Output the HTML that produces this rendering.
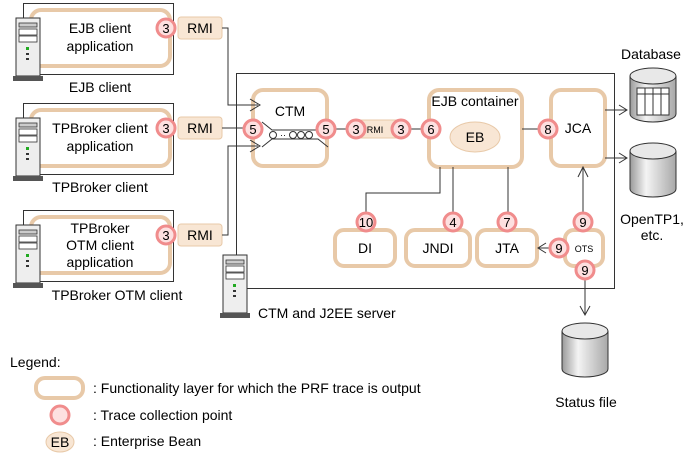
<!DOCTYPE html>
<html><head><meta charset="utf-8"><style>
html,body{margin:0;padding:0;background:#fff;}
svg{display:block;font-family:"Liberation Sans",Arial,sans-serif;}
</style></head><body>
<svg width="696" height="460" viewBox="0 0 696 460" xmlns="http://www.w3.org/2000/svg">
<defs>
<linearGradient id="cyl" x1="0" x2="1" y1="0" y2="0">
<stop offset="0" stop-color="#9a9a9a"/><stop offset="0.35" stop-color="#f4f4f4"/><stop offset="1" stop-color="#a8a8a8"/>
</linearGradient>
<g id="srv">
<rect x="3" y="0" width="24" height="58" fill="#eee" stroke="#333" stroke-width="1"/>
<rect x="6" y="5" width="18" height="4" fill="#ccc" stroke="#333" stroke-width="0.8"/>
<rect x="6" y="11" width="18" height="6" fill="#fff" stroke="#333" stroke-width="0.8"/>
<rect x="6" y="18" width="18" height="6" fill="#fff" stroke="#333" stroke-width="0.8"/>
<rect x="13" y="29" width="3" height="3" fill="#2a2"/>
<rect x="13" y="35" width="3" height="2" fill="#333"/>
<rect x="13" y="40" width="3" height="2" fill="#333"/>
<rect x="0" y="58" width="30" height="5" fill="#555"/>
</g>
<g id="cy">
<path d="M0 8 V46 A23 8 0 0 0 46 46 V8" fill="url(#cyl)" stroke="#333" stroke-width="1"/>
<ellipse cx="23" cy="8" rx="23" ry="8" fill="#e8e8e8" stroke="#333" stroke-width="1"/>
</g>
</defs>
<g font-size="14" fill="#000" stroke="none"></g>

<!-- client boxes -->
<g fill="none" stroke="#333" stroke-width="1">
<rect x="23.5" y="3.5" width="150" height="71"/>
<rect x="23.5" y="103.5" width="150" height="71"/>
<rect x="23.5" y="210.5" width="150" height="71"/>
<rect x="236.5" y="73.5" width="378" height="215"/>
</g>
<g fill="none" stroke="#e8c9a8" stroke-width="4">
<rect x="31" y="10" width="139" height="56" rx="10"/>
<rect x="31" y="110" width="139" height="56" rx="10"/>
<rect x="31" y="217" width="139" height="56" rx="10"/>
<rect x="253" y="90" width="74" height="76" rx="10"/>
<rect x="429" y="90" width="93" height="77" rx="10"/>
<rect x="551" y="90" width="54" height="76" rx="10"/>
<rect x="335" y="230" width="60" height="36" rx="9"/>
<rect x="406" y="230" width="64" height="36" rx="9"/>
<rect x="477" y="230" width="60" height="36" rx="9"/>
<rect x="565" y="230" width="38" height="36" rx="9"/>
<rect x="36" y="378" width="47" height="20" rx="9"/>
</g>
<use href="#srv" x="13" y="18"/>
<use href="#srv" x="13" y="118"/>
<use href="#srv" x="13" y="225"/>
<use href="#srv" x="220" y="255"/>

<!-- RMI boxes -->
<g fill="#f8e6d4" stroke="#e8c9a8" stroke-width="1">
<rect x="178" y="17" width="44" height="22" rx="3"/>
<rect x="178" y="117" width="44" height="22" rx="3"/>
<rect x="178" y="224" width="44" height="22" rx="3"/>
<rect x="350" y="120" width="50" height="18" rx="3"/>
<ellipse cx="475" cy="137" rx="25" ry="15"/>
<ellipse cx="60" cy="442" rx="14" ry="10"/>
</g>

<!-- connectors -->
<g fill="none" stroke="#333" stroke-width="1">
<path d="M222 28 H228 V105 H258"/>
<path d="M250 99 L260 105 L250 111"/>
<path d="M222 128 H244"/>
<path d="M222 235 H228 V146 H258"/>
<path d="M250 140 L260 146 L250 152"/>
<path d="M336 129 H346"/>
<path d="M410 129 H421"/>
<path d="M522 129 H540"/>
<path d="M605 110 H627 M619 105 L627 110 L619 115"/>
<path d="M605 158 H627 M619 153 L627 158 L619 163"/>
<path d="M440 167 V193 H366 V212"/>
<path d="M453 167 V212"/>
<path d="M508 167 V212"/>
<path d="M583 212 V168 M578 177 L583 167 L588 177"/>
<path d="M550 248 H538 M546 243 L538 248 L546 253"/>
<path d="M585 280 V315 M580 306 L585 315 L590 306"/>
<!-- CTM queue -->
<path d="M262 122 L272 130 H318 L328 122"/>
<path d="M262 147 L272 139 H318 L328 147"/>
</g>
<g fill="#fff" stroke="#333" stroke-width="1">
<circle cx="273" cy="135" r="3.5"/>
<circle cx="293" cy="135" r="3.5"/>
<circle cx="301" cy="135" r="3.5"/>
<circle cx="309" cy="135" r="3.5"/>
</g>
<text x="280" y="138" font-size="9" font-family="Liberation Sans,sans-serif">··</text>

<!-- cylinders -->
<use href="#cy" x="630" y="68"/>
<g fill="#fff" stroke="#333" stroke-width="1">
<rect x="637" y="88" width="32" height="27"/>
</g>
<path d="M637 94 H669 M645 88 V115 M653 88 V115 M661 88 V115" stroke="#333" fill="none"/>
<use href="#cy" x="630" y="143"/>
<use href="#cy" x="562" y="323"/>

<!-- trace circles -->
<g fill="#fde0e0" stroke="#f08c8c" stroke-width="3">
<circle cx="166" cy="28" r="9"/>
<circle cx="166" cy="128" r="9"/>
<circle cx="166" cy="235" r="9"/>
<circle cx="253" cy="129" r="9"/>
<circle cx="326" cy="129" r="9"/>
<circle cx="356" cy="129" r="9"/>
<circle cx="401" cy="129" r="9"/>
<circle cx="431" cy="129" r="9"/>
<circle cx="548" cy="129" r="9"/>
<circle cx="366" cy="222" r="9"/>
<circle cx="453" cy="222" r="9"/>
<circle cx="507" cy="222" r="9"/>
<circle cx="583" cy="222" r="9"/>
<circle cx="559" cy="248" r="9"/>
<circle cx="585" cy="270" r="9"/>
<circle cx="60" cy="415" r="9"/>
</g>
<g font-size="13" text-anchor="middle" fill="#000">
<text x="166" y="33">3</text><text x="166" y="133">3</text><text x="166" y="240">3</text>
<text x="253" y="134">5</text><text x="326" y="134">5</text>
<text x="356" y="134">3</text><text x="401" y="134">3</text><text x="431" y="134">6</text>
<text x="548" y="134">8</text>
<text x="366" y="227">10</text><text x="453" y="227">4</text><text x="507" y="227">7</text>
<text x="583" y="227">9</text><text x="559" y="253">9</text><text x="585" y="275">9</text>
</g>

<!-- labels -->
<g font-size="14" text-anchor="middle" fill="#000">
<text x="100" y="33">EJB client</text>
<text x="100" y="51">application</text>
<text x="100" y="92">EJB client</text>
<text x="100" y="133">TPBroker client</text>
<text x="100" y="151">application</text>
<text x="100" y="192">TPBroker client</text>
<text x="100" y="233">TPBroker</text>
<text x="100" y="250">OTM client</text>
<text x="100" y="267">application</text>
<text x="117" y="300">TPBroker OTM client</text>
<text x="200" y="33">RMI</text><text x="200" y="133">RMI</text><text x="200" y="240">RMI</text>
<text x="290" y="116">CTM</text>
<text x="475" y="106">EJB container</text>
<text x="475" y="142">EB</text>
<text x="578" y="133">JCA</text>
<text x="365" y="253">DI</text>
<text x="438" y="253">JNDI</text>
<text x="507" y="253">JTA</text>
<text x="651" y="59">Database</text>
<text x="652" y="224">OpenTP1,</text>
<text x="652" y="240">etc.</text>
<text x="586" y="407">Status file</text>
<text x="60" y="447">EB</text>
</g>
<text x="375" y="133" font-size="9" text-anchor="middle">RMI</text>
<text x="584" y="252" font-size="9" text-anchor="middle">OTS</text>
<g font-size="14" fill="#000">
<text x="258" y="318">CTM and J2EE server</text>
<text x="10" y="367">Legend:</text>
<text x="93" y="393">: Functionality layer for which the PRF trace is output</text>
<text x="93" y="420">: Trace collection point</text>
<text x="93" y="446">: Enterprise Bean</text>
</g>
</svg>
</body></html>
